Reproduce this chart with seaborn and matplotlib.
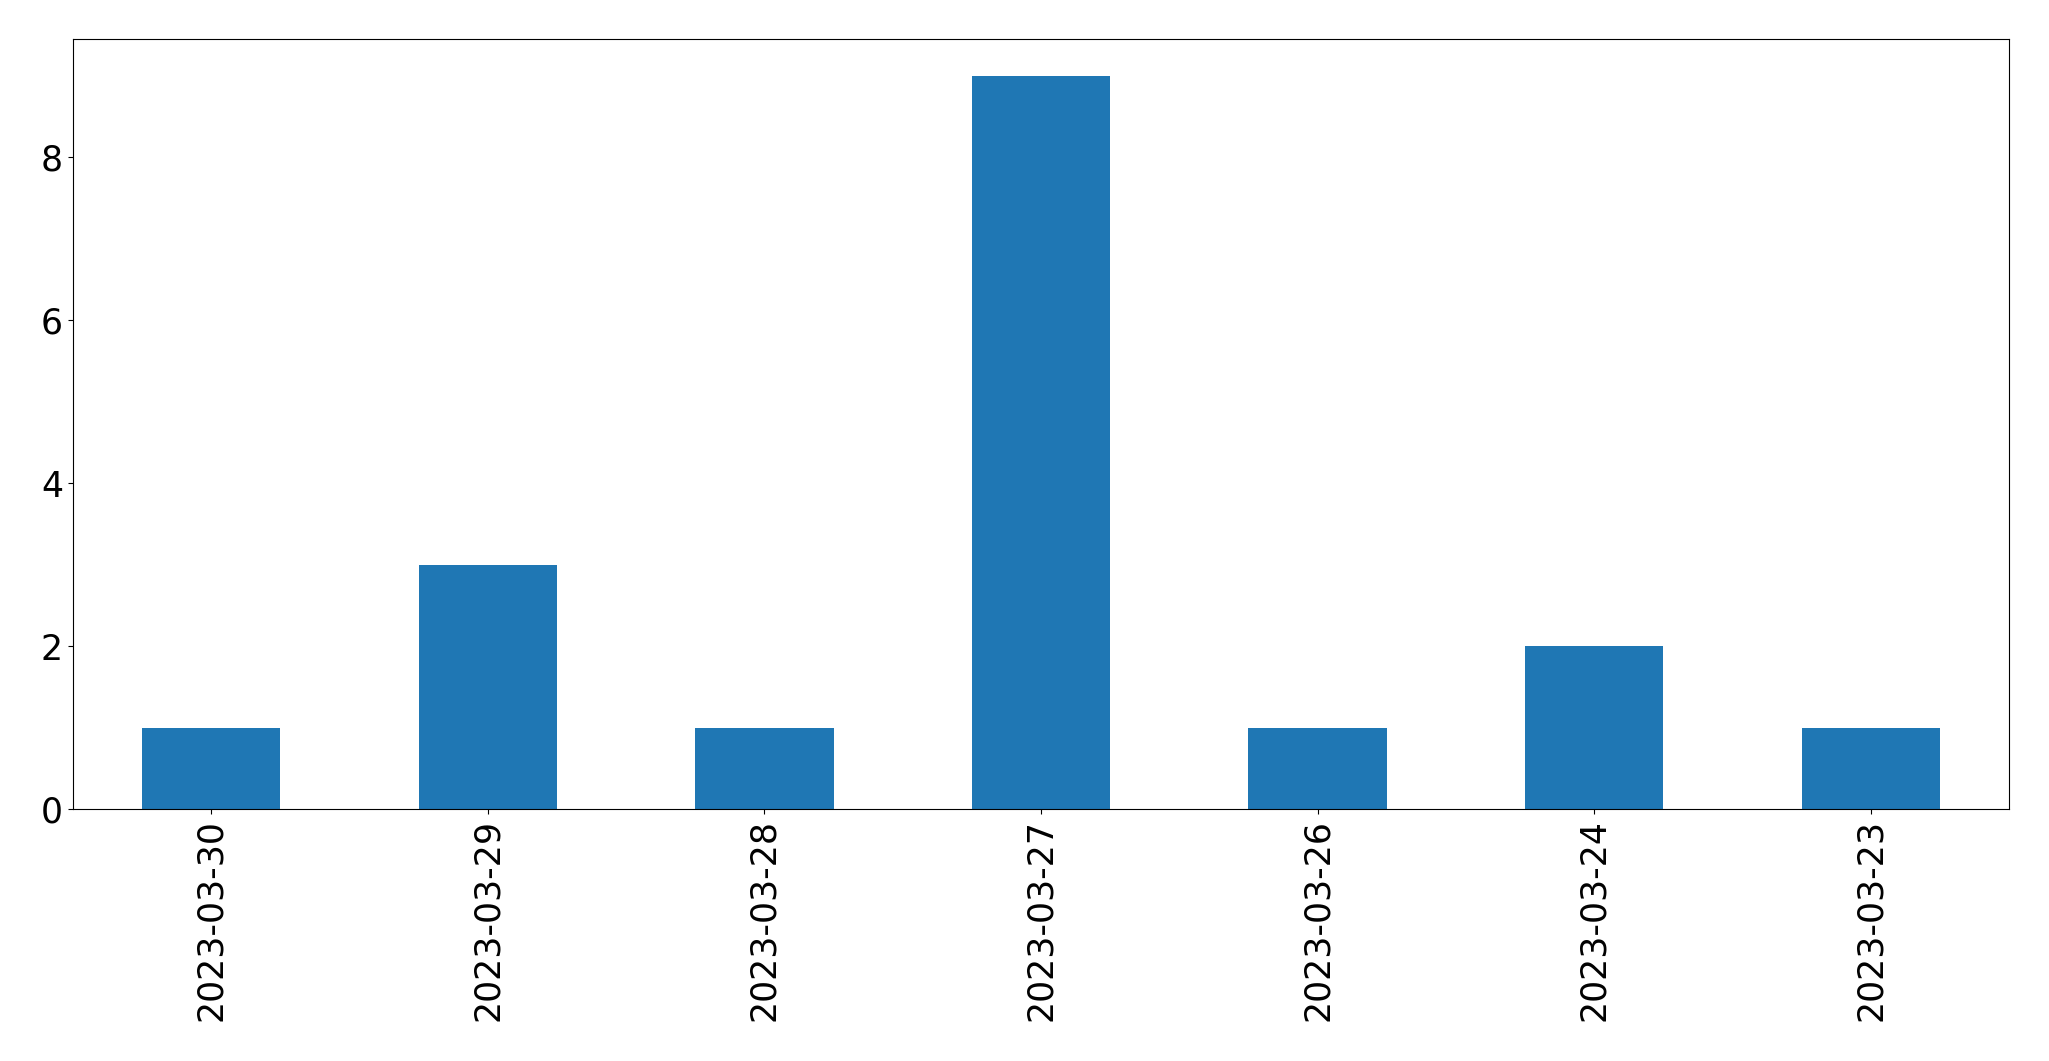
import pandas as pd
import matplotlib.pyplot as plt
import seaborn as sns

# Данные
dates = ['2023-03-30', '2023-03-29', '2023-03-28', '2023-03-27', '2023-03-26', '2023-03-24', '2023-03-23']
counts = [1, 3, 1, 9, 1, 2, 1]

df = pd.DataFrame({'date': dates, 'count': counts})

sns.set_style('ticks', rc={'axes.edgecolor': 'black', 'xtick.color': 'black', 'ytick.color': 'black',
                           'text.color': 'black', 'axes.labelcolor': 'black', 'axes.linewidth': 0.8})
plt.rcParams['font.family'] = ['DejaVu Sans']

fig = plt.figure(figsize=(20.49, 10.61), dpi=100)
fig.subplots_adjust(left=72.7 / 2049, right=2009.3 / 2049, top=1 - 39.3 / 1061, bottom=1 - 809 / 1061)
ax = fig.add_subplot(111)

sns.barplot(data=df, x='date', y='count', color='#1f77b4', saturation=1, width=0.5,
            linewidth=0, edgecolor='none', ax=ax)
ax.set_xlim(-0.5, len(dates) - 0.5)
ax.set_ylim(0, 9.45)
ax.set_xlabel('')
ax.set_ylabel('')
ax.tick_params(axis='x', rotation=90, labelsize=25, width=0.8, length=3.5)
ax.tick_params(axis='y', labelsize=25, width=0.8, length=3.5)

plt.savefig('out.png', dpi=100)
